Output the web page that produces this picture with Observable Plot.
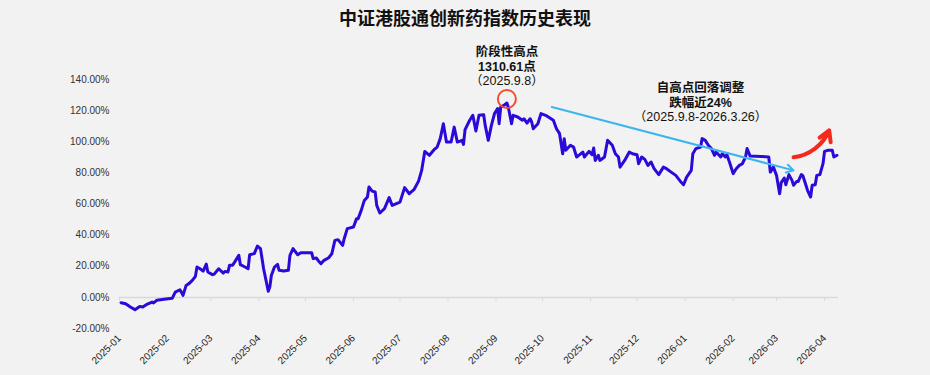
<!DOCTYPE html>
<html>
<head>
<meta charset="utf-8">
<script src="https://cdn.jsdelivr.net/npm/d3@7"></script>
<script src="https://cdn.jsdelivr.net/npm/@observablehq/plot@0.6"></script>
<style>
  html, body { margin: 0; padding: 0; background: #f2f2f2; }
  #title { width: 930px; height: 34px; line-height: 34px; text-align: center;
    font-family: "Noto Sans CJK SC", "Noto Sans", sans-serif; font-weight: bold; font-size: 18px; color: #111; }
  #chart svg { display: block; }
</style>
</head>
<body>
<div id="title"></div>
<div id="chart"></div>
<script>
const title = "中证港股通创新药指数历史表现";

const dates = [
"2025-01-02","2025-01-05","2025-01-08","2025-01-11","2025-01-14","2025-01-16","2025-01-19","2025-01-22","2025-01-23","2025-01-25",
"2025-01-31","2025-02-04","2025-02-06","2025-02-09","2025-02-10","2025-02-11","2025-02-13","2025-02-15","2025-02-17","2025-02-19",
"2025-02-20","2025-02-22","2025-02-24","2025-02-26","2025-02-27","2025-03-02","2025-03-03","2025-03-06","2025-03-09","2025-03-10",
"2025-03-12","2025-03-13","2025-03-15","2025-03-17","2025-03-19","2025-03-20","2025-03-23","2025-03-25","2025-03-26","2025-03-29",
"2025-03-31","2025-04-02","2025-04-04","2025-04-07","2025-04-08","2025-04-09","2025-04-11","2025-04-13","2025-04-14","2025-04-17",
"2025-04-20","2025-04-21","2025-04-23","2025-04-26","2025-04-28","2025-05-05","2025-05-06","2025-05-08","2025-05-10","2025-05-11",
"2025-05-13","2025-05-16","2025-05-18","2025-05-20","2025-05-22","2025-05-25","2025-05-26","2025-05-28","2025-06-01","2025-06-03",
"2025-06-04","2025-06-06","2025-06-08","2025-06-10","2025-06-11","2025-06-13","2025-06-15","2025-06-16","2025-06-18","2025-06-21",
"2025-06-24","2025-06-26","2025-07-01","2025-07-04","2025-07-07","2025-07-10","2025-07-13","2025-07-15","2025-07-17","2025-07-20",
"2025-07-23","2025-07-25","2025-07-27","2025-07-29","2025-07-31","2025-08-03","2025-08-05","2025-08-07","2025-08-09","2025-08-10",
"2025-08-11","2025-08-12","2025-08-15","2025-08-17","2025-08-19","2025-08-21","2025-08-24","2025-08-25","2025-08-27","2025-08-29",
"2025-08-31","2025-09-02","2025-09-03","2025-09-04","2025-09-06","2025-09-08","2025-09-09","2025-09-11","2025-09-12","2025-09-15",
"2025-09-18","2025-09-19","2025-09-21","2025-09-23","2025-09-24","2025-09-25","2025-09-28","2025-09-30","2025-10-03","2025-10-08",
"2025-10-10","2025-10-12","2025-10-14","2025-10-15","2025-10-16","2025-10-19","2025-10-21","2025-10-23","2025-10-25","2025-10-27",
"2025-10-28","2025-10-31","2025-11-02","2025-11-03","2025-11-04","2025-11-06","2025-11-07","2025-11-10","2025-11-12","2025-11-15",
"2025-11-17","2025-11-19","2025-11-20","2025-11-23","2025-11-26","2025-11-28","2025-12-01","2025-12-02","2025-12-04","2025-12-06",
"2025-12-08","2025-12-10","2025-12-12","2025-12-15","2025-12-18","2025-12-20","2025-12-23","2025-12-26","2025-12-29","2025-12-31",
"2026-01-02","2026-01-05","2026-01-06","2026-01-08","2026-01-11","2026-01-12","2026-01-14","2026-01-16","2026-01-18","2026-01-20",
"2026-01-21","2026-01-24","2026-01-25","2026-01-27","2026-01-28","2026-01-30","2026-02-01","2026-02-03","2026-02-05","2026-02-07",
"2026-02-09","2026-02-10","2026-02-12","2026-02-19","2026-02-24","2026-02-25","2026-02-27","2026-03-01","2026-03-03","2026-03-04",
"2026-03-06","2026-03-07","2026-03-09","2026-03-11","2026-03-12","2026-03-14","2026-03-15","2026-03-17","2026-03-18","2026-03-20",
"2026-03-21","2026-03-23","2026-03-24","2026-03-26","2026-03-27","2026-03-29","2026-03-31","2026-04-01","2026-04-03","2026-04-06",
"2026-04-07","2026-04-09"
];

const values = [
-3.4,-4.1,-6.2,-7.9,-5.8,-6.2,-4.3,-3.0,-3.6,-1.9,
-1.1,-0.6,3.4,4.9,3.2,1.3,7.7,9.0,10.9,13.5,
19.5,18.4,16.9,21.4,16.3,14.6,14.8,18.4,15.6,16.7,
16.3,20.6,20.6,23.8,27.0,21.0,19.5,18.4,27.4,28.1,
33.0,31.3,18.4,3.9,6.6,14.1,19.5,21.2,17.4,16.9,
17.4,27.0,31.3,27.4,28.7,28.7,24.9,25.3,22.7,21.7,
23.8,25.5,28.0,36.6,37.1,33.4,37.7,44.2,45.2,50.6,
50.6,55.9,62.3,64.5,70.9,68.3,67.7,59.1,54.2,57.0,
64.1,59.1,61.2,70.5,66.6,69.2,74.7,81.6,93.8,91.3,
94.9,96.6,102.0,111.6,99.8,99.8,109.4,99.8,100.4,100.9,
98.3,107.8,113.8,117.0,106.9,117.0,117.4,110.5,100.9,110.5,
118.1,121.3,111.6,122.3,123.4,124.9,121.9,111.6,117.0,115.9,
113.8,114.8,112.0,114.8,112.7,108.4,111.6,118.1,117.0,113.8,
108.4,105.2,92.3,102.0,94.5,97.7,96.6,90.2,91.7,93.4,
90.2,93.8,91.7,96.0,88.0,91.3,88.0,90.2,100.9,97.7,
92.3,90.2,83.7,88.0,93.4,92.3,91.7,85.9,90.2,88.7,
84.8,87.0,82.7,78.9,83.7,82.7,80.5,78.4,74.5,72.4,
77.3,81.6,92.3,95.6,96.6,102.0,100.9,97.7,95.6,91.3,
93.4,90.2,92.3,90.2,91.7,85.9,79.5,82.7,84.8,85.9,
90.2,95.6,90.8,90.6,90.2,80.5,83.7,78.4,66.6,73.7,
76.7,72.4,78.9,75.2,72.0,74.5,74.5,78.9,78.2,72.0,
68.8,64.5,72.0,72.4,78.4,78.9,85.9,93.8,94.5,94.5,
90.2,91.3
];

const monthLabels = ["2025-01","2025-02","2025-03","2025-04","2025-05","2025-06","2025-07","2025-08",
  "2025-09","2025-10","2025-11","2025-12","2026-01","2026-02","2026-03","2026-04"];
const yTicks = [-20, 0, 20, 40, 60, 80, 100, 120, 140];
const xDomain = ["2025-01-01", "2026-04-10"];

const peakDate = "2025-09-08";
const peakValue = 124.9;
const peakNote = ["阶段性高点", "1310.61点", "（2025.9.8）"];

const declineNote = ["自高点回落调整", "跌幅近24%", "（2025.9.8-2026.3.26）"];
const declineNoteAt = {date: "2026-01-11", value: 125.6};
const trendArrow = {from: {date: "2025-10-07", value: 122.3}, to: {date: "2026-03-12", value: 81.6}};
const reboundArrow = {from: {date: "2026-03-12", value: 90.0}, to: {date: "2026-04-04", value: 107.3}};

document.getElementById("title").textContent = title;

const P = s => new Date(s + "T00:00:00Z");
const series = dates.map((d, i) => ({date: P(d), value: values[i]}));
const monthDates = monthLabels.map(m => P(m + "-01"));
const noteFont = "'Liberation Sans', Arial, 'Noto Sans CJK SC', sans-serif";

const noteStyle = {text: d => d, fontFamily: noteFont, fontSize: 12.5, lineHeight: 1.16, lineAnchor: "middle", fill: "#111", className: "note"};

const chart = Plot.plot({
  width: 930,
  height: 341,
  marginLeft: 119,
  marginRight: 92,
  marginTop: 45,
  marginBottom: 47,
  style: {background: "transparent", fontFamily: "'Liberation Sans', Arial, sans-serif", fontSize: "10px", color: "#333"},
  x: {type: "utc", domain: xDomain.map(P)},
  y: {domain: [-20, 140]},
  marks: [
    Plot.ruleY([0], {stroke: "#d9d9d9", strokeWidth: 1.5}),
    Plot.ruleX(monthDates, {x: d => d, y1: 0, y2: -2.6, stroke: "#d9d9d9", strokeWidth: 1}),
    Plot.axisY(yTicks, {tickSize: 0, tickPadding: 10, tickFormat: d => d.toFixed(2) + "%", label: null, fill: "#333"}),
    Plot.axisX(monthDates, {tickSize: 0, tickPadding: 8, tickRotate: -45, tickFormat: d3.utcFormat("%Y-%m"), label: null, fill: "#222"}),
    Plot.line(series, {x: "date", y: "value", stroke: "#2a0ad8", strokeWidth: 3, strokeLinejoin: "round", strokeLinecap: "round"}),
    Plot.dot([{date: P(peakDate), value: peakValue}], {x: "date", y: "value", r: 9, dy: -4, stroke: "#f0502d", strokeWidth: 2, fill: "none"}),
    Plot.arrow([trendArrow], {x1: d => P(d.from.date), y1: d => d.from.value, x2: d => P(d.to.date), y2: d => d.to.value,
      stroke: "#3db4ef", strokeWidth: 2, headLength: 6}),
    Plot.arrow([reboundArrow], {x1: d => P(d.from.date), y1: d => d.from.value, x2: d => P(d.to.date), y2: d => d.to.value,
      stroke: "#f42a1c", strokeWidth: 4, headLength: 4.5, bend: -30}),
    Plot.text([peakNote.join("\n")], {...noteStyle, x: () => P(peakDate), y: () => peakValue, dy: -37}),
    Plot.text([declineNote.join("\n")], {...noteStyle, x: () => P(declineNoteAt.date), y: () => declineNoteAt.value})
  ]
});
// first two lines of each note are bold, the date line is regular
d3.select(chart).selectAll("g.note text").each(function() {
  d3.select(this).selectAll("tspan").attr("font-weight", (d, i) => i < 2 ? "bold" : "normal");
});
document.getElementById("chart").appendChild(chart);
</script>
</body>
</html>
